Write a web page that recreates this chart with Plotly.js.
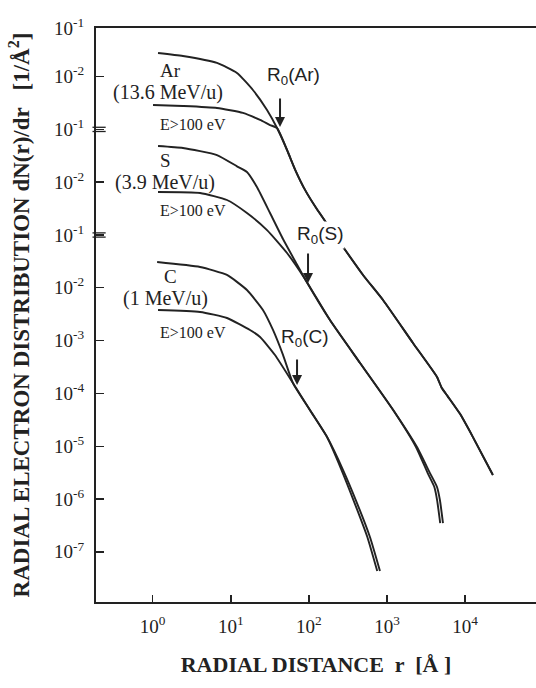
<!DOCTYPE html>
<html>
<head>
<meta charset="utf-8">
<script src="https://cdn.plot.ly/plotly-3.0.1.min.js"></script>
<style>html,body{margin:0;padding:0;background:#fff;}#chart{width:536px;height:688px;}</style>
</head>
<body>
<div id="chart"></div>
<script>
// ---- data (radial distance r in Å, dN/dr in 1/Å^2) ----
const arTotR = [1.17, 2.44, 6.65, 12.0, 19.2, 29.1, 39.1, 52.5, 67.0, 90.0, 124, 182, 274, 493, 889, 2150, 4370, 5010, 6000, 8610, 12600, 22700];
const arTotV = [2.80e-2, 2.45e-2, 1.81e-2, 1.17e-2, 5.57e-3, 2.33e-3, 1.06e-3, 4.07e-4, 1.70e-4, 7.00e-5, 3.24e-5, 1.42e-5, 5.93e-6, 1.75e-6, 5.87e-7, 9.02e-8, 2.05e-8, 1.28e-8, 8.80e-9, 4.10e-9, 1.49e-9, 2.85e-10];
const arLowR = [1.01, 2.44, 6.65, 14.3, 23.7, 31.8, 39.1, 52.5, 67.0, 90.0, 124, 182, 274, 493, 889, 2150, 4370, 5010, 6000, 8610, 12600, 22700];
const arLowV = [2.90e-3, 2.77e-3, 2.54e-3, 2.05e-3, 1.51e-3, 1.21e-3, 1.06e-3, 4.07e-4, 1.70e-4, 7.00e-5, 3.24e-5, 1.42e-5, 5.93e-6, 1.75e-6, 5.87e-7, 9.02e-8, 2.05e-8, 1.28e-8, 8.80e-9, 4.10e-9, 1.49e-9, 2.85e-10];

const sTotR = [1.17, 2.44, 6.65, 12.0, 16.1, 21.6, 31.8, 46.6, 67.0, 89.1, 186, 452, 1200, 2420, 3550, 4370, 4760, 5210];
const sTotV = [4.85e-2, 4.45e-2, 3.27e-2, 2.00e-2, 1.56e-2, 8.11e-3, 2.61e-3, 8.40e-4, 3.15e-4, 1.47e-4, 2.45e-5, 3.77e-6, 4.85e-7, 9.66e-8, 3.10e-8, 1.69e-8, 9.57e-9, 3.51e-9];
const sLowR = [1.17, 4.04, 8.93, 16.1, 29.1, 52.5, 89.1, 186, 452, 1200, 2350, 3320, 4040, 4380, 4800];
const sLowV = [6.52e-3, 6.24e-3, 4.60e-3, 2.61e-3, 1.24e-3, 4.56e-4, 1.47e-4, 2.45e-5, 3.77e-6, 4.85e-7, 9.66e-8, 3.10e-8, 1.69e-8, 9.57e-9, 3.51e-9];

const cTotR = [1.14, 4.04, 8.93, 16.1, 25.8, 34.7, 46.6, 62.5, 103, 171, 274, 413, 605, 813];
const cTotV = [3.08e-2, 2.48e-2, 1.75e-2, 9.08e-3, 3.80e-3, 1.59e-3, 5.37e-4, 1.57e-4, 4.85e-5, 1.49e-5, 3.54e-6, 8.39e-7, 1.91e-7, 4.33e-8];
const cLowR = [1.17, 4.04, 8.93, 17.6, 23.7, 36.8, 62.5, 103, 171, 262, 385, 560, 750];
const cLowV = [3.80e-3, 3.48e-3, 2.68e-3, 1.59e-3, 1.17e-3, 5.33e-4, 1.57e-4, 4.85e-5, 1.49e-5, 3.54e-6, 8.39e-7, 1.91e-7, 4.33e-8];

// ions, their vertical display shift, and the R0 markers
const ions = ['Ar', 'S', 'C'];
const ionEnergy = ['(13.6 MeV/u)', '(3.9 MeV/u)', '(1 MeV/u)'];
const ionShift = [1e4, 1e2, 1];
const r0R = [42.7, 97.5, 70.5];
const r0V = [1.11e-3, 1.23e-4, 1.44e-4];

// tick labels
const xTickVals = [1, 10, 100, 1000, 10000];
const xTickText = ['10<sup>0</sup>', '10<sup>1</sup>', '10<sup>2</sup>', '10<sup>3</sup>', '10<sup>4</sup>'];
const yTickIon = ['Ar', 'Ar', 'S', 'S', 'C', 'C', 'C', 'C', 'C', 'C', 'C'];
const yTickExp = [-1, -2, -1, -2, -1, -2, -3, -4, -5, -6, -7];

// ---- build ----
const yLo = -7.95, yHi = 2.92;
const lineStyle = {color: '#222', width: 1.9, shape: 'spline', smoothing: 0.5};
const series = [
  [arTotR, arTotV, 0], [arLowR, arLowV, 0],
  [sTotR, sTotV, 1], [sLowR, sLowV, 1],
  [cTotR, cTotV, 2], [cLowR, cLowV, 2]
];
const traces = series.map(([r, v, k]) => ({
  type: 'scatter', mode: 'lines', x: r, y: v.map(d => d * ionShift[k]),
  line: lineStyle, hoverinfo: 'skip', showlegend: false
}));

const yTickVals = yTickExp.map((e, i) => {
  const lv = e + Math.log10(ionShift[ions.indexOf(yTickIon[i])]);
  return Math.pow(10, Math.min(lv, yHi - 0.004));
});
const yTickText = yTickExp.map(e => '10<sup>' + e + '</sup>');

const serif = 'Liberation Serif, Times New Roman, serif';
const sans = 'Liberation Sans, Arial, sans-serif';
const ink = '#222';

const ann = [];
// ion labels (positions in log10 axis units)
const ionLabelPos = [[0.234, 2.106], [0.170, 0.402], [0.222, -1.777]];
const energyLabelPos = [[0.196, 1.708], [0.157, -0.015], [0.170, -2.193]];
const ecutLabelPos = [[0.516, 1.102], [0.516, -0.545], [0.516, -2.837]];
const r0LabelPos = [[1.809, 2.011], [2.142, -1.0], [1.950, -2.951]];
const r0Arrow = [-30, -31, -27];
ions.forEach((ion, k) => {
  ann.push({x: ionLabelPos[k][0], y: ionLabelPos[k][1], text: ion, showarrow: false,
    font: {family: serif, size: 19, color: ink}});
  ann.push({x: energyLabelPos[k][0], y: energyLabelPos[k][1], text: ionEnergy[k], showarrow: false,
    font: {family: serif, size: 20, color: ink}});
  ann.push({x: ecutLabelPos[k][0], y: ecutLabelPos[k][1], text: 'E>100 eV', showarrow: false,
    font: {family: serif, size: 16, color: ink}});
  ann.push({x: r0LabelPos[k][0], y: r0LabelPos[k][1], text: 'R<sub>0</sub>(' + ion + ')', showarrow: false,
    font: {family: sans, size: 19, color: ink}, bgcolor: k === 1 ? 'rgba(255,255,255,1)' : 'rgba(0,0,0,0)'});
  ann.push({x: Math.log10(r0R[k]), y: Math.log10(r0V[k] * ionShift[k]), text: '', showarrow: true,
    ax: 0, ay: r0Arrow[k], arrowhead: 2, arrowsize: 1, arrowwidth: 2, arrowcolor: ink});
});

// axis break marks on the y axis at the start of the S and C scales
const shapes = [];
[1, 2].forEach(k => {
  const yb = -1 + Math.log10(ionShift[k]);
  [-0.04, 0.04].forEach(d => shapes.push({type: 'line', xref: 'paper', yref: 'y',
    x0: -0.008, x1: 0.022, y0: Math.pow(10, yb + d), y1: Math.pow(10, yb + d), line: {color: ink, width: 1.3}}));
});

const layout = {
  width: 536, height: 688,
  margin: {l: 96, r: 0, t: 28, b: 86},
  paper_bgcolor: '#fff', plot_bgcolor: '#fff',
  showlegend: false,
  xaxis: {
    type: 'log', range: [-0.726, 4.908], showgrid: false, zeroline: false,
    showline: true, mirror: true, linecolor: ink, linewidth: 2,
    ticks: 'inside', ticklen: 7, tickwidth: 1.4, tickcolor: ink,
    tickmode: 'array', tickvals: xTickVals, ticktext: xTickText,
    ticklabelstandoff: 6,
    tickfont: {family: serif, size: 19, color: ink},
    title: {text: 'RADIAL DISTANCE  r  [Å ]', font: {family: serif, size: 22, color: ink, weight: 'bold'}, standoff: 21}
  },
  yaxis: {
    type: 'log', range: [yLo, yHi], showgrid: false, zeroline: false,
    showline: true, mirror: false, linecolor: ink, linewidth: 2,
    ticks: 'inside', ticklen: 8, tickwidth: 1.4, tickcolor: ink,
    tickmode: 'array', tickvals: yTickVals, ticktext: yTickText,
    ticklabelstandoff: 6,
    tickfont: {family: serif, size: 19, color: ink},
    title: {text: 'RADIAL ELECTRON DISTRIBUTION dN(r)/dr   [1/Å<sup>2</sup>]', font: {family: serif, size: 23, color: ink, weight: 'bold'}, standoff: 18}
  },
  annotations: ann,
  shapes: shapes
};

Plotly.newPlot('chart', traces, layout, {staticPlot: true, displayModeBar: false});
</script>
</body>
</html>
